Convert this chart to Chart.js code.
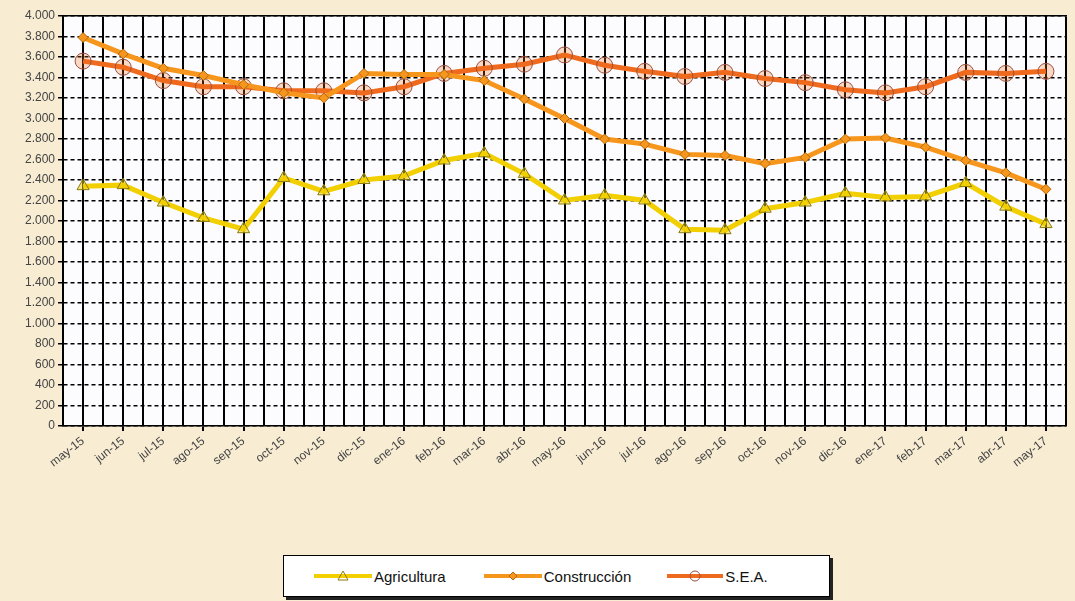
<!DOCTYPE html>
<html>
<head>
<meta charset="utf-8">
<script src="https://cdn.jsdelivr.net/npm/chart.js@4.4.1/dist/chart.umd.min.js"></script>
<style>
  body { margin: 0; background: #f8ecd3; width: 1075px; height: 601px; overflow: hidden; font-family: "Liberation Sans", Arial, sans-serif; }
  #wrap { position: absolute; left: 0; top: 0; width: 1075px; height: 473px; }
  #legend { position: absolute; left: 283px; top: 555px; width: 545px; height: 40px; background: #fff; border: 1px solid #000; box-shadow: 3px 3px 0 #222; display: flex; align-items: center; font-size: 15px; color: #111; }
  #legend .item { display: flex; align-items: center; }
  #legend svg { margin-right: 2px; }
</style>
</head>
<body>
<div id="wrap"><canvas id="chart"></canvas></div>
<div id="legend">
  <div class="item" style="margin-left:30px"><svg width="58" height="14"><line x1="0" y1="7" x2="58" y2="7" stroke="#f2cf00" stroke-width="4"/><polygon points="29,2 34,11 24,11" fill="none" stroke="#8a7a10" stroke-width="1"/></svg>Agricultura</div>
  <div class="item" style="margin-left:38px"><svg width="58" height="14"><line x1="0" y1="7" x2="58" y2="7" stroke="#f7961c" stroke-width="4"/><polygon points="29,3 33,7 29,11 25,7" fill="#f7961c" stroke="#b06a10" stroke-width="1"/></svg>Construcción</div>
  <div class="item" style="margin-left:36px"><svg width="56" height="14"><line x1="0" y1="7" x2="56" y2="7" stroke="#ef6a1c" stroke-width="4"/><circle cx="28" cy="7" r="5" fill="none" stroke="#9a5040" stroke-width="1"/></svg>S.E.A.</div>
</div>
<script>
const months = ["may-15", "jun-15", "jul-15", "ago-15", "sep-15", "oct-15", "nov-15", "dic-15", "ene-16", "feb-16", "mar-16", "abr-16", "may-16", "jun-16", "jul-16", "ago-16", "sep-16", "oct-16", "nov-16", "dic-16", "ene-17", "feb-17", "mar-17", "abr-17", "may-17"];
const agricultura = [2340, 2350, 2180, 2030, 1920, 2420, 2290, 2400, 2440, 2590, 2660, 2460, 2200, 2250, 2200, 1920, 1910, 2120, 2180, 2270, 2230, 2240, 2370, 2140, 1970];
const construccion = [3790, 3630, 3490, 3420, 3330, 3250, 3200, 3440, 3430, 3430, 3370, 3190, 3000, 2800, 2750, 2650, 2640, 2560, 2620, 2800, 2810, 2720, 2590, 2470, 2310];
const sea = [3560, 3500, 3370, 3310, 3310, 3270, 3270, 3250, 3310, 3440, 3490, 3530, 3620, 3520, 3460, 3410, 3450, 3390, 3350, 3280, 3250, 3310, 3450, 3440, 3460];
const yTicks = { min: 0, max: 4000, step: 200 };

function fmt(v) {
    return v.toString().replace(/\B(?=(\d{3})+(?!\d))/g, ".");
}

// white plot area
const plotBg = {
    id: "plotBg",
    beforeDraw(chart) {
        const a = chart.chartArea;
        const c = chart.ctx;
        c.save();
        c.fillStyle = "#fcfcff";
        c.fillRect(a.left, a.top, a.right - a.left, a.bottom - a.top);
        c.restore();
    }
};

const ctx = document.getElementById("chart").getContext("2d");

new Chart(ctx, {
    type: "line",
    data: {
        labels: months,
        datasets: [{
            label: "Agricultura",
            data: agricultura,
            borderColor: "#f2cf00",
            borderWidth: 5,
            pointStyle: "triangle",
            pointRadius: 7,
            pointBorderColor: "#8a7a10",
            pointBorderWidth: 1,
            pointBackgroundColor: "rgba(242,207,0,0.5)",
            tension: 0
        }, {
            label: "Construcción",
            data: construccion,
            borderColor: "#f7961c",
            borderWidth: 5,
            pointStyle: "rectRot",
            pointRadius: 5,
            pointBorderColor: "#b06a10",
            pointBorderWidth: 1,
            pointBackgroundColor: "#f7961c",
            tension: 0
        }, {
            label: "S.E.A.",
            data: sea,
            borderColor: "#ef6a1c",
            borderWidth: 5,
            pointStyle: "circle",
            pointRadius: 8,
            pointBorderColor: "#9a5040",
            pointBorderWidth: 1,
            pointBackgroundColor: "rgba(239,106,28,0.25)",
            tension: 0
        }]
    },
    options: {
        responsive: true,
        maintainAspectRatio: false,
        animation: false,
        layout: { padding: { left: 22, right: 3, top: 16, bottom: 0 } },
        scales: {
            x: {
                offset: true,
                grid: { offset: false, color: "#000", lineWidth: 2, tickLength: 5 },
                border: { color: "#000", width: 1.5 },
                ticks: {
                    color: "#444",
                    font: { family: "Liberation Sans", size: 12 },
                    minRotation: 38,
                    maxRotation: 38,
                    autoSkip: false
                }
            },
            x2: {
                position: "top",
                offset: true,
                grid: { offset: true, color: "#000", lineWidth: 2, drawTicks: false },
                border: { color: "#000", width: 1.5 },
                ticks: { display: false }
            },
            y: {
                min: yTicks.min,
                max: yTicks.max,
                grid: { color: "#000", lineWidth: 1.5, tickLength: 5, tickBorderDash: [0, 0] },
                border: { color: "#000", width: 1.5, dash: [4, 3] },
                ticks: {
                    stepSize: yTicks.step,
                    color: "#444",
                    font: { family: "Liberation Sans", size: 12 },
                    padding: 3,
                    callback: v => fmt(v)
                }
            }
        },
        plugins: {
            legend: { display: false },
            tooltip: { enabled: false }
        }
    },
    plugins: [plotBg]
});
</script>
</body>
</html>
